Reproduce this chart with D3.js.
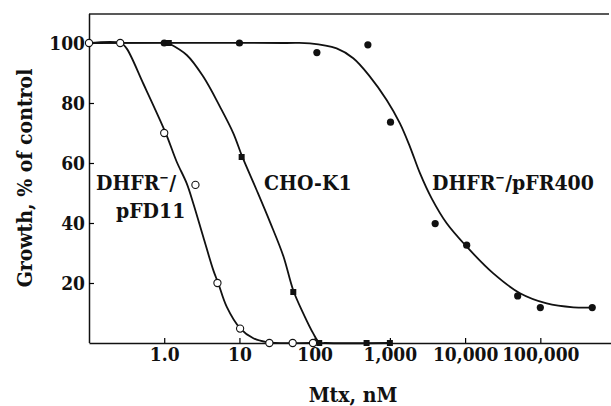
<!DOCTYPE html>
<meta charset="utf-8">
<style>
    body { margin: 0; background: #fff; }
    text {
        font-family: "DejaVu Serif Condensed", "DejaVu Serif", serif;
        font-weight: bold;
        fill: #111;
    }
    .tick text { font-size: 19px; }
    .lbl { font-size: 21px; }
</style>
<div class="chart"></div>
<script src="https://cdnjs.cloudflare.com/ajax/libs/d3/7.8.5/d3.min.js"></script>
<script>
    // x ticks (nM) and labels
    var xTicks = [1, 10, 100, 1000, 10000, 100000];
    var xTickLabels = ["1.0", "10", "100", "1,000", "10,000", "100,000"];
    var yTicks = [20, 40, 60, 80, 100];

    // measured points [Mtx nM, growth %]
    var pfd11Pts = [[0.1,100],[0.26,100],[1.0,70],[2.6,52.7],[5.1,20],[10.2,4.8],[25,0],[51,0],[95,0]];
    var choPts = [[1.15,100],[10.7,62],[52,17],[115,0],[490,0],[1000,0]];
    var pfr400Pts = [[1.0,100],[10,100],[107,96.8],[510,99.4],[1020,73.6],[4000,39.8],[10500,32.6],[50000,15.7],[100000,11.8],[490000,11.8]];

    // fitted curves
    var pfd11Curve = [[0.1,100],[0.266,100],[0.316,98.2],[0.526,86.5],[1.05,69.9],[1.46,60.5],[1.99,53.2],[2.43,46.6],[3.3,35.4],[4.49,24.3],[5.23,19.9],[6.76,12.1],[10.2,4.9],[15.3,1.6],[23,0.3],[30,0],[95,0]];
    var choCurve = [[1.13,100],[1.99,96],[3.3,88.8],[5.5,78.8],[8.3,69.9],[10.9,62.1],[16.9,51],[25.5,40.3],[38.3,29],[52,17.5],[70.5,9.9],[95.7,3.2],[115,0.2],[140,0],[1000,0]];
    var pfr400Curve = [[0.1,100],[40,100],[86.5,99.9],[196,98.2],[326,94.9],[543,88.8],[906,81],[1360,73.2],[1850,65.4],[2510,56.6],[3590,48.2],[5690,39.9],[10500,32.1],[23700,23.2],[53700,16.6],[121600,13.2],[275000,11.9],[492000,11.8]];

    var svgW = 611, svgH = 406;
    var x0 = 89, x1 = 611, yTop = 14, yBot = 343;

    var svg = d3.select(".chart").append("svg")
        .attr("width", svgW)
        .attr("height", svgH);

    var x = d3.scaleLog().domain([0.1, 870000]).range([x0, x1]);
    var y = d3.scaleLinear().domain([0, 110]).range([yBot, yBot - 330]);

    // frame: top line, left axis, bottom axis
    svg.append("line").attr("x1", x0).attr("x2", 609).attr("y1", yTop).attr("y2", yTop)
        .attr("stroke", "#222").attr("stroke-width", 1.5);

    var xAxis = d3.axisBottom(x).tickValues(xTicks)
        .tickFormat(function (d, i) { return xTickLabels[i]; })
        .tickSizeInner(-5).tickSizeOuter(0).tickPadding(4);
    var gx = svg.append("g").attr("transform", "translate(0," + yBot + ")").call(xAxis);
    gx.select(".domain").attr("stroke-width", 1.5).attr("stroke", "#111");
    gx.selectAll("line").attr("stroke-width", 1.2);

    var yAxis = d3.axisLeft(y).tickValues(yTicks)
        .tickSizeInner(-5).tickSizeOuter(0).tickPadding(4);
    var gy = svg.append("g").attr("transform", "translate(" + x0 + ",0)").call(yAxis);
    gy.select(".domain").attr("d", "M0.5," + yTop + "V" + yBot).attr("stroke-width", 1.5).attr("stroke", "#111");
    gy.selectAll("line").attr("stroke-width", 1.2);
    gx.selectAll("text").attr("fill", "#111");
    gy.selectAll("text").attr("fill", "#111");

    // curves
    var line = d3.line()
        .x(function (d) { return x(d[0]); })
        .y(function (d) { return y(d[1]); })
        .curve(d3.curveCatmullRom.alpha(0.5));

    [pfr400Curve, choCurve, pfd11Curve].forEach(function (c) {
        svg.append("path").datum(c)
            .attr("d", line)
            .attr("fill", "none")
            .attr("stroke", "#111")
            .attr("stroke-width", 1.8);
    });

    // points
    svg.selectAll(".fr").data(pfr400Pts).enter().append("circle")
        .attr("cx", function (d) { return x(d[0]); })
        .attr("cy", function (d) { return y(d[1]); })
        .attr("r", 3.6).attr("fill", "#111");

    svg.selectAll(".cho").data(choPts).enter().append("rect")
        .attr("x", function (d) { return x(d[0]) - 3; })
        .attr("y", function (d) { return y(d[1]) - 3; })
        .attr("width", 6).attr("height", 6).attr("fill", "#111");

    svg.selectAll(".fd").data(pfd11Pts).enter().append("circle")
        .attr("cx", function (d) { return x(d[0]); })
        .attr("cy", function (d) { return y(d[1]); })
        .attr("r", 3.6).attr("fill", "#fff")
        .attr("stroke", "#111").attr("stroke-width", 1.1);

    // labels
    function dhfr(t) {
        t.append("tspan").text("DHFR");
        t.append("tspan").text("\u2212").attr("font-size", 13).attr("dy", -8);
        t.append("tspan").text("/").attr("dy", 8);
    }
    var t1 = svg.append("text").attr("class", "lbl").attr("x", 96).attr("y", 190);
    dhfr(t1);
    svg.append("text").attr("class", "lbl").attr("x", 116).attr("y", 218).text("pFD11");
    svg.append("text").attr("class", "lbl").attr("x", 264).attr("y", 190).text("CHO-K1");
    var t3 = svg.append("text").attr("class", "lbl").attr("x", 432).attr("y", 190);
    dhfr(t3);
    t3.append("tspan").text("pFR400");

    // axis titles
    svg.append("text").attr("class", "lbl")
        .attr("x", 353).attr("y", 402).attr("text-anchor", "middle")
        .text("Mtx, nM");
    svg.append("text").attr("class", "lbl")
        .attr("transform", "translate(32,178) rotate(-90)")
        .attr("text-anchor", "middle")
        .text("Growth, % of control");
</script>
